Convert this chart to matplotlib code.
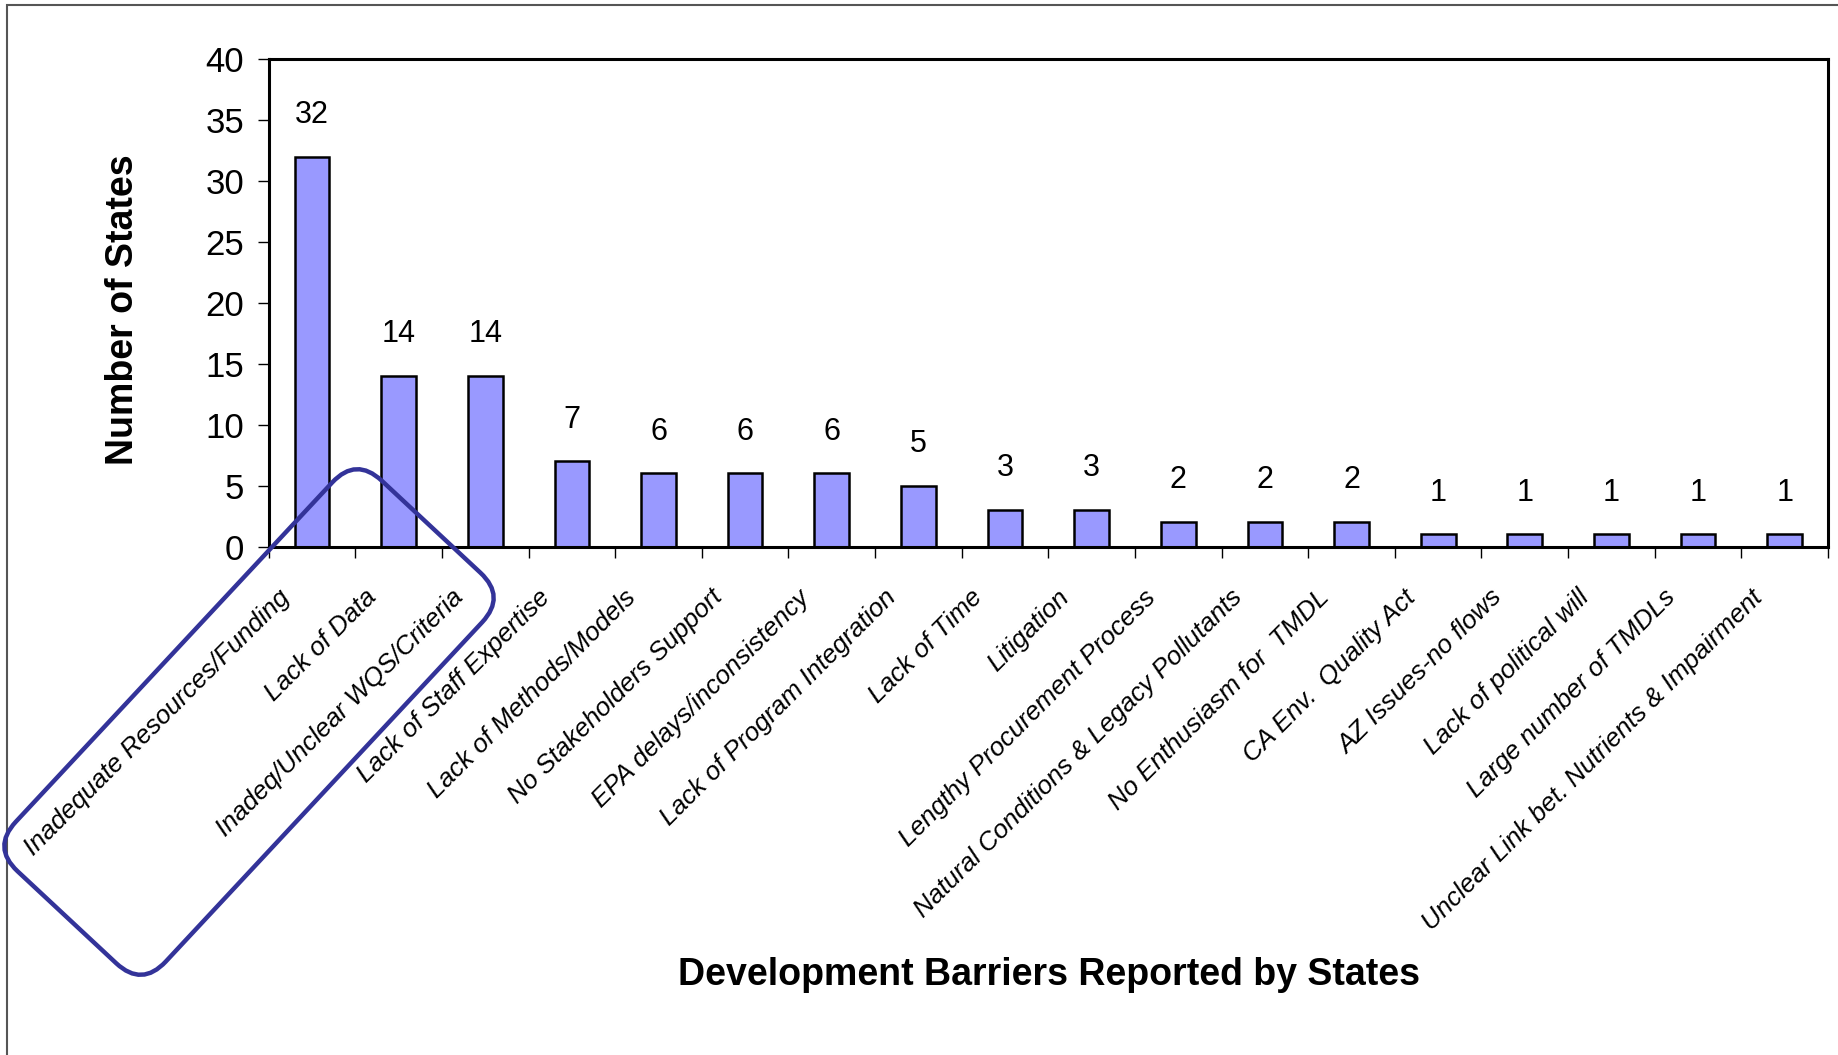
import matplotlib
matplotlib.use("Agg")
import matplotlib.pyplot as plt
import numpy as np
from matplotlib import font_manager
from matplotlib.patches import FancyBboxPatch, Rectangle
from matplotlib.transforms import Affine2D, ScaledTranslation

# Data
barriers = [
    "Inadequate Resources/Funding",
    "Lack of Data",
    "Inadeq/Unclear WQS/Criteria",
    "Lack of Staff Expertise",
    "Lack of Methods/Models",
    "No Stakeholders Support",
    "EPA delays/inconsistency",
    "Lack of Program Integration",
    "Lack of Time",
    "Litigation",
    "Lengthy Procurement Process",
    "Natural Conditions & Legacy Pollutants",
    "No Enthusiasm for  TMDL",
    "CA Env.  Quality Act",
    "AZ Issues-no flows",
    "Lack of political will",
    "Large number of TMDLs",
    "Unclear Link bet. Nutrients & Impairment",
]
num_states = [32, 14, 14, 7, 6, 6, 6, 5, 3, 3, 2, 2, 2, 1, 1, 1, 1, 1]
y_ticks = [0, 5, 10, 15, 20, 25, 30, 35, 40]

names = {f.name for f in font_manager.fontManager.ttflist}
narrow = "Liberation Sans Narrow" in names
plt.rcParams["font.family"] = ["Liberation Sans", "DejaVu Sans"]

W, H = 1838, 1055
fig = plt.figure(figsize=(W / 100, H / 100), dpi=100)
ax = fig.add_axes([268.7 / W, 1 - 546.5 / H, (1828 - 268.7) / W, (546.5 - 59.3) / H])

x = np.arange(len(barriers))
ax.bar(x, num_states, width=0.40, color="#9999ff", edgecolor="black", linewidth=1.8, zorder=2)

for xi, v in zip(x, num_states):
    ax.annotate(str(v), (xi, v), xytext=(0, 30), textcoords="offset points",
                ha="center", va="center", fontsize=22)

ax.set_xlim(-0.5, len(barriers) - 0.5)
ax.set_ylim(0, 40)
ax.set_yticks(y_ticks)
ax.tick_params(axis="y", labelsize=25, length=7.7, width=1, pad=10, direction="out")

ax.set_xticks(x)
if narrow:
    ax.set_xticklabels(barriers, rotation=45, ha="right", va="center", rotation_mode="anchor",
                       fontsize=23, fontstyle="italic", family=["Liberation Sans Narrow"])
else:
    ax.set_xticklabels(barriers, rotation=45, ha="right", va="center", rotation_mode="anchor",
                       fontsize=18.8, fontstyle="italic")
ax.set_xticks(np.arange(len(barriers) + 1) - 0.5, minor=True)
ax.tick_params(axis="x", which="major", length=0, pad=34)
ax.tick_params(axis="x", which="minor", length=7.7, width=1, direction="out")
shift = ScaledTranslation(-0.26, 0, fig.dpi_scale_trans)
for lbl in ax.get_xticklabels():
    lbl.set_transform(lbl.get_transform() + shift)

for s in ax.spines.values():
    s.set_linewidth(2.2)

fig.text(123 / W, 1 - 310 / H, "Number of States", rotation=90, ha="center", va="center",
         fontsize=27, fontweight="bold")
fig.text(1049 / W, 1 - 975 / H, "Development Barriers Reported by States", ha="center", va="center",
         fontsize=27, fontweight="bold")

# outer frame of the slide
fig.patches.append(Rectangle((7 / W, -0.1), 1.2, 1 - 5 / H + 0.1, transform=fig.transFigure,
                             fill=False, edgecolor="#555555", linewidth=1.5))

# rounded highlight box around the first three labels
cx, cy = 2.49, (H - 722) / 100
bw, bh = 5.34, 2.05
box = FancyBboxPatch((-bw / 2, -bh / 2), bw, bh, boxstyle="round,pad=0,rounding_size=0.35",
                     fill=False, edgecolor="#333399", linewidth=3.2,
                     transform=Affine2D().rotate_deg(47).translate(cx, cy) + fig.dpi_scale_trans)
fig.patches.append(box)

fig.savefig("out.png", dpi=100)
